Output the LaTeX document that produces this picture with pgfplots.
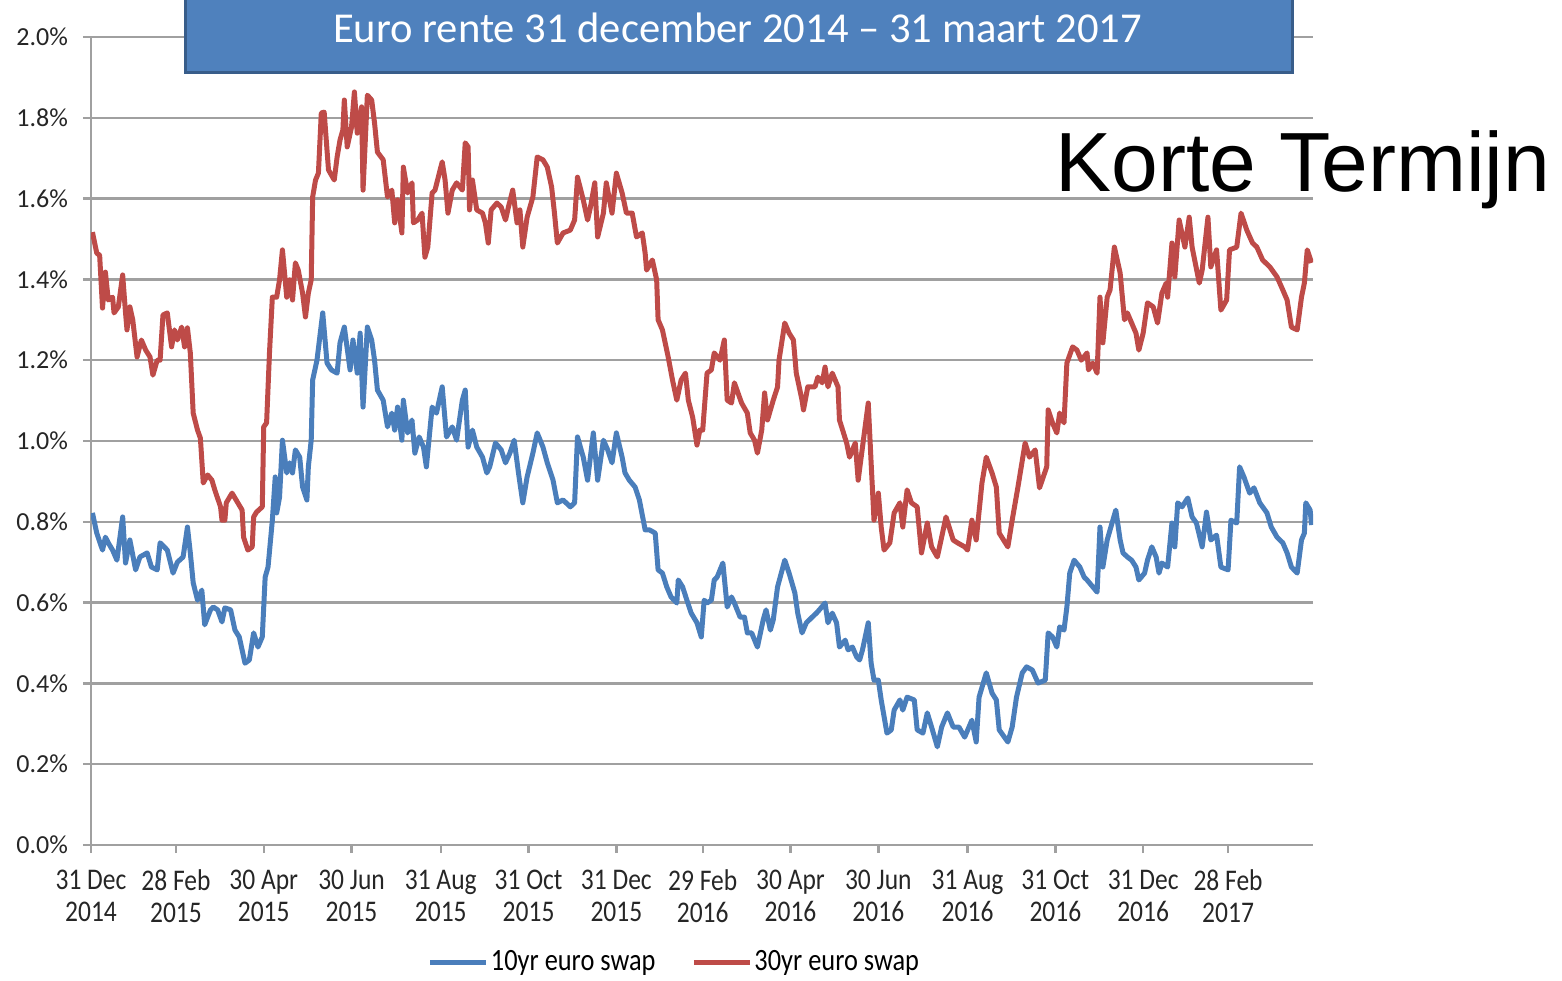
\documentclass[border=0pt]{standalone}
\usepackage{pgfplots}
\pgfplotsset{compat=1.18}
\usepackage{fontspec}
\setmainfont{Carlito}
\newfontfamily\narrowfont[FakeStretch=0.85]{Carlito}
\newfontfamily\arialfont{Liberation Sans}
\definecolor{swapblue}{HTML}{4A7EBB}
\definecolor{swapred}{HTML}{BE4B48}
\definecolor{gridgray}{HTML}{A0A0A0}
\definecolor{boxblue}{HTML}{4F81BD}
\definecolor{boxedge}{HTML}{385D8A}

\begin{document}
\begin{tikzpicture}
\path[use as bounding box] (-45.5pt,-67.5pt) rectangle (735.5pt,422.5pt);
\begin{axis}[
at={(0pt,0pt)},anchor=south west,
scale only axis,width=611pt,height=404pt,
xmin=0,xmax=849,ymin=0,ymax=2,
axis x line*=bottom,axis y line*=left,
axis line style={gridgray,line width=1.2pt,-},
xtick={0,59,120,181,243,304,365,425,486,547,609,670,731,790},
xticklabels={31 Dec\\2014,28 Feb\\2015,30 Apr\\2015,30 Jun\\2015,31 Aug\\2015,31 Oct\\2015,31 Dec\\2015,29 Feb\\2016,30 Apr\\2016,30 Jun\\2016,31 Aug\\2016,31 Oct\\2016,31 Dec\\2016,28 Feb\\2017},
ytick={0,0.2,0.4,0.6,0.8,1.0,1.2,1.4,1.6,1.8,2.0},
yticklabels={0.0\%,0.2\%,0.4\%,0.6\%,0.8\%,1.0\%,1.2\%,1.4\%,1.6\%,1.8\%,2.0\%},
ymajorgrids,grid style={gridgray,line width=1.2pt},
tick style={gridgray,line width=1.2pt},
major tick length=4pt,tick align=outside,
x tick label style={font=\narrowfont\fontsize{15}{16}\selectfont,align=center,text=black!85,yshift=-5pt},
y tick label style={font=\fontsize{13}{15}\selectfont,text=black!85,xshift=-4pt},
legend style={at={(0.4775,-0.1448)},anchor=center,draw=none,fill=none,legend columns=2,
  font=\narrowfont\fontsize{15.5}{17}\selectfont,nodes={inner sep=1pt},
  /tikz/every even column/.append style={column sep=17pt}},
legend image code/.code={\draw[#1] (0pt,0pt) -- (28pt,0pt);},
every axis plot/.append style={line width=2.5pt,line join=round}
]
\addplot[swapblue] coordinates {
(1,0.822)(4,0.772)(8,0.730)(10,0.762)(12,0.748)(15,0.730)(18,0.705)(22,0.812)(24,0.698)(27,0.755)
(31,0.681)(34,0.713)(39,0.723)(42,0.688)(46,0.681)(48,0.748)(53,0.730)(57,0.673)(60,0.700)(64,0.713)
(67,0.787)(69,0.723)(71,0.649)(74,0.606)(77,0.631)(79,0.545)(83,0.582)(85,0.589)(88,0.582)(91,0.552)
(93,0.587)(97,0.582)(100,0.532)(103,0.515)(107,0.450)(110,0.458)(113,0.525)(116,0.490)(119,0.515)(121,0.663)
(123,0.688)(126,0.804)(128,0.911)(129,0.822)(131,0.861)(133,1.002)(136,0.921)(138,0.946)(140,0.921)(142,0.978)
(145,0.960)(147,0.886)(150,0.854)(151,0.936)(153,1.002)(154,1.151)(157,1.200)(161,1.317)(164,1.193)(167,1.176)
(171,1.168)(173,1.243)(176,1.282)(180,1.176)(182,1.250)(185,1.168)(187,1.267)(189,1.084)(192,1.282)(195,1.250)
(197,1.200)(199,1.126)(203,1.101)(206,1.035)(209,1.069)(211,1.027)(213,1.084)(216,1.002)(217,1.101)(220,1.020)
(223,1.052)(225,0.970)(228,1.010)(231,0.985)(233,0.936)(237,1.084)(240,1.069)(244,1.134)(247,1.010)(251,1.035)
(254,1.002)(258,1.101)(260,1.126)(262,0.985)(265,1.027)(268,0.985)(272,0.960)(275,0.921)(277,0.936)(281,0.995)
(285,0.978)(288,0.946)(291,0.970)(294,1.002)(297,0.921)(300,0.847)(303,0.911)(307,0.970)(310,1.020)(314,0.985)
(317,0.946)(321,0.903)(324,0.847)(328,0.854)(333,0.837)(336,0.847)(338,1.010)(342,0.960)(345,0.903)(349,1.020)
(352,0.903)(356,1.002)(359,0.978)(362,0.946)(365,1.020)(369,0.960)(371,0.921)(374,0.903)(378,0.886)(381,0.854)
(385,0.780)(388,0.780)(392,0.772)(394,0.681)(397,0.673)(400,0.639)(403,0.614)(407,0.599)(408,0.656)(411,0.639)
(414,0.606)(417,0.574)(421,0.550)(424,0.515)(426,0.606)(428,0.599)(431,0.606)(433,0.656)(435,0.663)(439,0.698)
(442,0.589)(445,0.614)(447,0.599)(451,0.564)(454,0.564)(456,0.525)(459,0.525)(463,0.490)(467,0.557)(469,0.582)
(472,0.532)(474,0.557)(477,0.639)(482,0.705)(485,0.673)(489,0.624)(491,0.574)(494,0.525)(497,0.550)(501,0.564)
(504,0.574)(506,0.582)(510,0.599)(512,0.550)(515,0.574)(518,0.550)(520,0.490)(524,0.507)(526,0.483)(529,0.490)
(532,0.465)(534,0.458)(536,0.483)(540,0.550)(542,0.450)(544,0.408)(547,0.408)(549,0.359)(553,0.277)(556,0.285)
(558,0.334)(562,0.359)(564,0.334)(567,0.366)(572,0.359)(574,0.285)(578,0.277)(581,0.327)(584,0.292)(588,0.243)
(591,0.292)(595,0.327)(599,0.292)(603,0.292)(607,0.267)(612,0.309)(615,0.255)(617,0.366)(622,0.426)(626,0.376)
(629,0.359)(631,0.285)(637,0.255)(640,0.292)(643,0.366)(647,0.426)(650,0.441)(654,0.433)(658,0.401)(663,0.408)
(665,0.525)(668,0.515)(671,0.490)(673,0.540)(676,0.532)(678,0.589)(680,0.673)(683,0.705)(687,0.688)(690,0.663)
(692,0.656)(696,0.639)(699,0.626)(701,0.787)(703,0.688)(706,0.755)(708,0.780)(712,0.829)(715,0.755)(717,0.723)
(720,0.713)(723,0.705)(726,0.688)(728,0.656)(732,0.673)(734,0.705)(737,0.738)(740,0.713)(742,0.673)(744,0.698)
(748,0.688)(751,0.797)(753,0.738)(755,0.847)(758,0.837)(762,0.859)(765,0.812)(768,0.797)(772,0.738)(775,0.824)
(778,0.755)(782,0.767)(785,0.688)(790,0.681)(792,0.804)(796,0.797)(798,0.936)(801,0.911)(805,0.871)(808,0.884)
(812,0.847)(817,0.822)(820,0.787)(824,0.762)(828,0.748)(831,0.723)(834,0.688)(838,0.673)(841,0.755)(843,0.772)
(844,0.847)(847,0.829)(848,0.792)
};
\addlegendentry{10yr euro swap}
\addplot[swapred] coordinates {
(1,1.517)(4,1.465)(6,1.460)(8,1.329)(10,1.418)(12,1.349)(15,1.356)(16,1.317)(19,1.332)(22,1.411)
(24,1.317)(25,1.275)(27,1.332)(29,1.300)(32,1.208)(35,1.250)(38,1.225)(41,1.208)(43,1.163)(46,1.200)
(48,1.200)(50,1.312)(53,1.317)(56,1.233)(58,1.275)(60,1.250)(63,1.282)(65,1.233)(67,1.280)(69,1.218)
(71,1.069)(74,1.027)(76,1.007)(78,0.896)(81,0.916)(84,0.903)(86,0.879)(90,0.837)(91,0.804)(93,0.804)
(94,0.847)(98,0.871)(102,0.847)(105,0.829)(106,0.762)(109,0.730)(112,0.738)(113,0.812)(115,0.824)(119,0.837)
(120,1.035)(122,1.045)(124,1.218)(126,1.356)(129,1.356)(131,1.399)(133,1.473)(136,1.356)(138,1.399)(140,1.349)
(142,1.441)(144,1.423)(147,1.366)(149,1.307)(151,1.366)(153,1.399)(154,1.604)(156,1.646)(158,1.663)(160,1.812)
(162,1.814)(165,1.671)(169,1.646)(171,1.703)(173,1.745)(175,1.770)(176,1.844)(178,1.728)(181,1.777)(183,1.864)
(185,1.762)(188,1.827)(189,1.621)(192,1.856)(195,1.844)(197,1.787)(199,1.715)(203,1.696)(206,1.604)(209,1.621)
(211,1.540)(213,1.597)(216,1.515)(217,1.678)(220,1.614)(223,1.639)(224,1.540)(227,1.547)(230,1.564)(232,1.455)
(234,1.480)(237,1.614)(239,1.621)(244,1.691)(246,1.646)(248,1.564)(251,1.621)(254,1.639)(258,1.621)(260,1.738)
(262,1.728)(263,1.572)(265,1.646)(268,1.572)(272,1.564)(274,1.540)(276,1.490)(278,1.572)(282,1.589)(285,1.579)
(288,1.547)(290,1.579)(293,1.621)(296,1.540)(298,1.572)(300,1.480)(303,1.554)(307,1.604)(310,1.703)(314,1.696)
(317,1.678)(320,1.629)(322,1.564)(324,1.490)(328,1.515)(333,1.522)(336,1.547)(338,1.653)(342,1.597)(345,1.547)
(347,1.579)(350,1.639)(352,1.505)(356,1.564)(358,1.639)(362,1.564)(365,1.663)(369,1.614)(372,1.564)(376,1.564)
(379,1.505)(383,1.515)(385,1.465)(386,1.423)(390,1.448)(393,1.399)(394,1.300)(397,1.275)(401,1.208)(404,1.151)
(407,1.101)(410,1.151)(413,1.168)(415,1.101)(418,1.059)(421,0.990)(423,1.027)(425,1.027)(428,1.168)(431,1.176)
(433,1.218)(437,1.200)(440,1.250)(442,1.101)(445,1.094)(447,1.144)(452,1.094)(456,1.069)(458,1.020)(461,1.002)
(463,0.970)(466,1.027)(468,1.119)(470,1.052)(474,1.101)(477,1.134)(478,1.200)(482,1.292)(485,1.267)(488,1.250)
(490,1.168)(494,1.101)(495,1.077)(498,1.134)(503,1.134)(505,1.158)(508,1.144)(510,1.183)(512,1.134)(515,1.168)
(519,1.134)(520,1.052)(525,0.995)(527,0.960)(531,0.995)(533,0.903)(536,0.985)(540,1.094)(542,0.946)(544,0.804)
(547,0.871)(549,0.787)(551,0.730)(555,0.748)(558,0.822)(562,0.847)(564,0.787)(567,0.879)(570,0.847)(574,0.837)
(577,0.723)(581,0.797)(584,0.738)(588,0.713)(591,0.762)(594,0.812)(599,0.755)(602,0.748)(607,0.738)(609,0.730)
(612,0.804)(615,0.755)(619,0.896)(622,0.960)(626,0.921)(629,0.886)(631,0.772)(637,0.738)(640,0.804)(644,0.886)
(649,0.995)(652,0.960)(656,0.978)(659,0.884)(664,0.936)(665,1.077)(668,1.045)(671,1.020)(673,1.069)(676,1.045)
(678,1.193)(682,1.233)(685,1.225)(688,1.200)(692,1.218)(693,1.176)(696,1.193)(699,1.168)(701,1.356)(703,1.243)
(706,1.356)(708,1.374)(711,1.480)(715,1.416)(718,1.300)(720,1.317)(723,1.292)(726,1.267)(728,1.225)(731,1.267)
(734,1.342)(738,1.332)(741,1.292)(744,1.366)(747,1.391)(748,1.356)(751,1.490)(753,1.406)(756,1.547)(760,1.480)
(763,1.554)(765,1.480)(770,1.391)(772,1.423)(776,1.554)(778,1.431)(782,1.473)(785,1.324)(789,1.349)(791,1.473)
(796,1.480)(799,1.564)(803,1.522)(807,1.490)(810,1.480)(814,1.448)(819,1.431)(824,1.406)(828,1.374)(831,1.349)
(834,1.282)(838,1.275)(841,1.356)(843,1.391)(845,1.473)(848,1.441)
};
\addlegendentry{30yr euro swap}
\end{axis}
\fill[boxblue] (47pt,386pt) rectangle (600.5pt,430pt);
\draw[boxedge,line width=1.5pt] (47pt,386pt) rectangle (600.5pt,430pt);
\node[text=white,font=\fontsize{21.3}{25}\selectfont] at (323.25pt,408.5pt) {Euro rente 31 december 2014 -- 31 maart 2017};
\node[anchor=base west,inner sep=0pt,font=\arialfont\fontsize{42}{48}\selectfont] at (482pt,326.5pt) {Korte Termijn};
\end{tikzpicture}
\end{document}
